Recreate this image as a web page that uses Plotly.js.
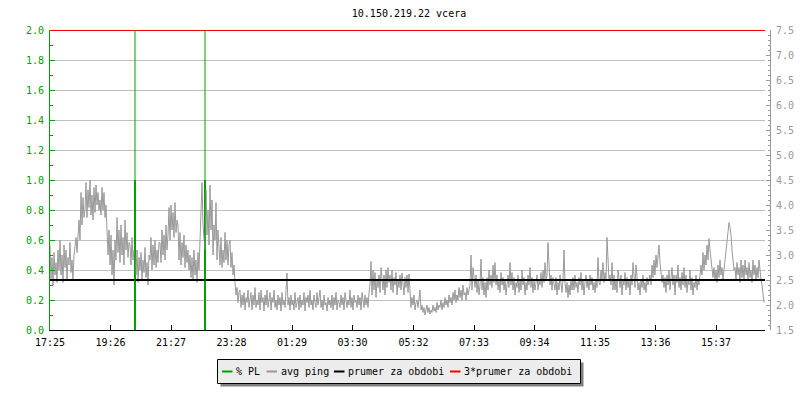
<!DOCTYPE html>
<html><head><meta charset="utf-8">
<script src="https://cdn.plot.ly/plotly-3.0.1.min.js"></script>
<style>html,body{margin:0;padding:0;background:#fff}#chart{width:800px;height:400px}</style>
</head><body><div id="chart"></div>
<script>
// ---------------- data ----------------
const chartTitle = '10.150.219.22 vcera';
const startTime = '17:25';
const windowMinutes = 1430;
const sampleStepMin = 2;
const tickLabels = ['17:25','19:26','21:27','23:28','01:29','03:30','05:32','07:33','09:34','11:35','13:36','15:37'];
const seriesNames = ['% PL','avg ping','prumer za obdobi','3*prumer za obdobi'];

// avg ping [ms], one value every sampleStepMin minutes from startTime
const pingMs = [
 3.2,2.5,2.95,2.4,3.05,2.6,2.85,2.45,3.1,2.7,
 3.3,2.6,3.0,2.45,3.2,2.75,3.1,2.5,2.95,2.8,3.25,2.65,2.9,2.5,3.0,
 3.2,3.35,3.05,
 3.4,3.7,3.3,4.25,3.6,4.15,3.75,
 3.9,4.45,3.75,4.3,3.95,4.5,3.8,4.2,3.7,4.35,3.85,4.4,4.0,4.25,3.9,
 4.1,3.8,4.35,3.9,4.25,3.75,4.0,
 3.6,3.0,3.5,2.8,3.4,2.6,3.1,2.4,
 3.3,2.9,3.75,3.05,3.5,2.85,3.6,3.0,3.35,2.8,3.7,3.1,3.45,2.95,3.25,
 3.2,2.8,3.35,2.9,3.1,
 3.0,2.6,3.1,2.45,2.95,2.7,3.05,2.5,2.9,2.65,3.15,2.55,2.85,2.4,3.0,
 2.9,3.35,2.7,3.2,2.8,3.3,2.75,3.1,2.85,3.25,
 3.25,2.85,3.5,3.0,3.4,2.9,3.6,3.1,
 3.4,3.95,3.3,4.0,3.5,3.85,3.35,4.05,3.45,3.7,
 3.6,2.9,3.45,2.8,3.25,2.95,3.4,2.75,3.2,2.85,3.1,2.7,
 3.0,2.55,2.95,2.5,3.1,2.6,2.9,2.45,3.05,2.7,
 3.4,3.9,4.45,3.6,3.2,
 3.1,4.3,3.4,3.9,3.2,4.4,3.5,4.1,3.0,3.6,
 3.3,4.05,2.9,3.5,3.2,2.8,3.35,2.75,3.1,2.85,3.45,2.9,3.3,2.8,3.2,
 3.3,2.75,3.05,2.6,2.8,
 2.45,2.2,2.35,2.05,2.25,
 2.3,1.95,2.2,2.0,2.25,1.9,2.15,2.05,2.3,1.95,
 2.1,2.25,1.9,2.2,2.0,2.35,1.95,2.1,2.0,2.25,
 1.9,2.3,2.05,2.15,1.88,2.2,2.0,2.3,1.95,2.1,
 2.25,1.9,2.15,2.05,2.3,1.95,2.1,1.9,2.2,2.0,
 2.15,1.88,2.25,2.0,2.1,1.95,2.3,2.64,2.0,2.15,
 1.9,2.2,2.0,2.1,1.9,2.25,1.95,2.05,2.15,1.9,
 2.2,1.95,2.1,2.0,2.25,1.88,2.15,2.05,2.2,1.95,
 2.3,2.0,2.1,1.9,2.2,2.05,1.95,2.25,2.0,2.15,
 2.3,1.95,2.1,1.9,2.2,2.0,2.05,1.88,2.15,2.0,
 2.1,1.95,2.2,1.9,2.15,2.0,2.25,1.9,2.1,2.05,
 1.95,2.2,2.0,2.15,1.9,2.25,2.05,1.95,2.1,2.0,
 2.3,1.95,2.15,1.9,2.2,2.05,2.1,1.95,2.2,2.0,
 2.15,1.9,2.25,2.05,1.95,2.2,2.0,2.15,1.95,2.25,
 2.4,2.87,2.2,2.7,2.3,2.65,2.15,2.5,2.35,2.6,
 2.25,2.75,2.4,2.3,2.6,2.2,2.7,2.35,2.75,2.45,
 2.6,2.3,2.7,2.25,2.55,2.4,2.65,2.2,2.5,2.35,
 2.6,2.3,2.64,2.4,2.2,2.55,2.35,2.6,2.25,2.62,
 2.1,1.95,2.15,2.0,2.2,1.9,2.05,2.1,1.95,2.15,
 2.3,1.9,2.0,1.85,1.95,1.8,1.9,2.0,1.85,1.95,
 1.82,1.9,1.85,2.0,1.88,1.95,1.85,2.05,1.9,2.0,
 1.95,2.1,1.9,2.05,1.95,2.15,2.0,2.1,1.95,2.2,
 2.05,2.15,2.0,2.25,2.1,2.3,2.05,2.2,2.1,2.35,
 2.15,2.3,2.1,2.4,2.2,2.25,2.1,2.35,2.2,2.3,
 2.4,3.0,2.3,2.75,2.5,
 2.35,2.6,2.25,2.5,2.2,2.4,2.92,2.3,2.55,2.2,
 2.45,2.15,2.55,2.3,2.7,2.4,2.6,2.35,2.8,2.45,
 2.85,2.4,2.6,2.3,2.5,2.25,2.65,2.4,2.55,2.3,
 2.5,2.2,2.45,2.6,2.35,2.85,2.4,2.65,2.3,2.55,
 2.2,2.45,2.35,2.6,2.25,2.5,2.3,2.7,2.4,2.55,
 2.2,2.45,2.3,2.6,2.4,
 2.75,2.35,2.55,2.25,2.5,2.3,2.45,2.6,2.3,2.5,
 2.4,2.65,2.35,2.7,2.45,2.85,2.5,2.6,3.25,2.7,
 2.4,2.6,2.3,2.55,2.35,
 2.3,2.55,2.2,2.45,2.3,2.6,2.4,2.25,2.5,3.1,
 2.45,2.25,2.45,2.15,2.4,2.2,2.5,2.3,2.55,2.3,
 2.6,2.35,2.45,2.25,2.55,2.4,2.65,2.3,2.5,2.2,
 2.45,2.6,2.35,2.5,2.3,2.6,2.4,2.55,2.3,2.45,
 2.25,2.5,2.35,2.95,2.45,
 2.4,2.7,2.5,2.85,2.45,2.65,2.5,3.35,2.7,2.5,
 2.6,2.4,2.85,2.3,2.6,2.3,2.5,2.25,2.7,2.45,
 2.35,2.6,2.2,2.5,2.4,2.65,2.3,2.55,2.35,2.5,
 2.2,2.6,2.4,2.85,2.5,2.35,2.8,2.55,2.3,2.45,
 2.2,2.5,2.35,2.6,2.3,2.45,2.25,2.55,2.4,2.5,
 2.6,2.4,2.8,2.55,2.9,2.6,3.0,2.75,3.1,3.2,
 2.85,2.7,2.45,2.6,2.35,2.55,2.25,2.6,2.4,2.7,
 2.3,2.55,2.75,2.4,2.6,2.2,2.6,2.45,2.8,2.35,
 2.55,2.3,2.65,2.4,2.75,2.35,2.6,2.25,2.5,2.4,
 2.7,2.3,2.55,2.2,2.45,2.35,2.6,2.3,2.5,2.4,
 2.55,2.8,2.6,3.05,2.7,3.0,2.8,3.2,2.9,3.33,3.1,2.9,
 2.85,2.55,2.75,2.5,2.7,2.45,2.8,2.55,2.9,2.6,2.75,2.5,2.7,
 2.9,3.2,3.4,3.6,3.65,3.55,3.4,3.1,2.9,2.7,
 2.75,2.5,2.85,2.6,2.75,2.45,2.9,2.55,2.8,2.5,
 2.9,2.6,2.75,2.5,2.85,2.55,2.7,2.45,2.9,2.6,
 2.8,2.5,2.75,2.55,2.9,2.6,2.5,2.4,2.25,2.05
];

// packet loss events (fraction, left axis)
const plEventTimes = ['20:15','22:35'];
const plEventValues = [1.0, 1.0];

// period averages [ms], right axis
const prumerMs = 2.5;
const prumer3Ms = 7.5;

// ---------------- styling ----------------
const FONT = 'DejaVu Sans Mono';
const GREEN = '#00a000';
const GRAY = '#999999';

function toMin(hhmm){
  const [h,m] = hhmm.split(':').map(Number);
  const [sh,sm] = startTime.split(':').map(Number);
  return ((h*60+m) - (sh*60+sm) + 1440) % 1440;
}

const pingX = pingMs.map((_, i) => i*sampleStepMin);
const tickVals = tickLabels.map(toMin);

const plX = [], plY = [];
plEventTimes.forEach((t, i) => {
  const m = toMin(t);
  plX.push(m, m, null); plY.push(0, plEventValues[i], null);
});

const traces = [
  {x: pingX, y: pingMs, yaxis: 'y2', type: 'scatter', mode: 'lines', name: seriesNames[1],
   line: {color: GRAY, width: 1}, hoverinfo: 'skip'},
  {x: [0, windowMinutes], y: [prumerMs, prumerMs], yaxis: 'y2', type: 'scatter', mode: 'lines',
   name: seriesNames[2], line: {color: '#000', width: 2}},
  {x: plX, y: plY, yaxis: 'y', type: 'scatter', mode: 'lines', name: seriesNames[0],
   line: {color: GREEN, width: 2}},
  {x: [0, windowMinutes], y: [prumer3Ms, prumer3Ms], yaxis: 'y2', type: 'scatter', mode: 'lines',
   name: seriesNames[3], line: {color: '#ff0000', width: 2}}
];

// pixel -> paper helpers (plot area: left 50, right 770, top 30, bottom 330)
const ML = 50, MR = 30, MT = 30, MB = 70, W = 800, H = 400;
const PW = W - ML - MR, PH = H - MT - MB;
const px = v => (v - ML) / PW;
const py = v => (H - MB - v) / PH;

const shapes = [];
plEventTimes.forEach(t => {
  shapes.push({type: 'line', xref: 'x', yref: 'paper', x0: toMin(t), x1: toMin(t), y0: 0, y1: 1,
    line: {color: GREEN, width: 1}});
});

// legend box
const legBox = {x0: 217.5, x1: 580.5, y0: 359.5, y1: 383.5, shadow: 3};
shapes.push({type: 'rect', xref: 'paper', yref: 'paper', x0: px(legBox.x0 + legBox.shadow), x1: px(legBox.x1 + legBox.shadow),
  y0: py(legBox.y1 + legBox.shadow), y1: py(legBox.y0 + legBox.shadow), fillcolor: '#808080', line: {width: 0}});
shapes.push({type: 'rect', xref: 'paper', yref: 'paper', x0: px(legBox.x0), x1: px(legBox.x1),
  y0: py(legBox.y1), y1: py(legBox.y0), fillcolor: '#ececec', line: {color: '#000', width: 1}});
const legColors = [GREEN, GRAY, '#000', '#ff0000'];
const legSampleX = [222, 266.5, 334, 450];
const legTextX = [236.5, 280.5, 348, 464];
const legY = 371.5;
const annotations = [];
seriesNames.forEach((n, i) => {
  shapes.push({type: 'line', xref: 'paper', yref: 'paper', x0: px(legSampleX[i]), x1: px(legSampleX[i] + 10.5),
    y0: py(legY), y1: py(legY), line: {color: legColors[i], width: 2}});
  annotations.push({xref: 'paper', yref: 'paper', x: px(legTextX[i] - 2), y: py(legY), xanchor: 'left', yanchor: 'middle',
    text: n, showarrow: false, font: {family: FONT, size: 10, color: '#000'}});
});

const layout = {
  width: W, height: H,
  margin: {l: ML, r: MR, t: MT, b: MB, pad: 0},
  paper_bgcolor: '#fff', plot_bgcolor: '#fff',
  showlegend: false,
  font: {family: FONT, size: 10, color: '#000'},
  title: {text: chartTitle, font: {family: FONT, size: 10, color: '#000'},
    xref: 'container', x: 409/800, xanchor: 'center', yref: 'container', y: 1 - 13.5/400, yanchor: 'middle'},
  xaxis: {domain: [0, (765 - ML)/PW], range: [0, windowMinutes], tickmode: 'array', tickvals: tickVals, ticktext: tickLabels,
    ticks: 'inside', ticklen: 5, tickcolor: '#000', showline: true, linecolor: '#000', linewidth: 1,
    showgrid: false, zeroline: false, tickfont: {family: FONT, size: 10, color: '#000'}, ticklabelstandoff: 3, fixedrange: true},
  yaxis: {range: [0, 2], tick0: 0, dtick: 0.2, tickformat: '.1f', ticks: 'inside', ticklen: 5, tickcolor: GREEN,
    showline: true, linecolor: GREEN, linewidth: 1, gridcolor: '#c0c0c0', gridwidth: 1, zeroline: false,
    tickfont: {family: FONT, size: 10, color: GREEN}, ticklabelstandoff: 3,
    minor: {dtick: 0.1, ticks: 'inside', ticklen: 3, tickcolor: GREEN, showgrid: false}, fixedrange: true},
  yaxis2: {overlaying: 'y', side: 'right', anchor: 'free', position: 1, range: [1.5, 7.5], tick0: 1.5, dtick: 0.5,
    tickformat: '.1f', ticks: 'inside', ticklen: 4, tickcolor: GRAY, showline: true, linecolor: GRAY, linewidth: 1,
    showgrid: false, zeroline: false, tickfont: {family: FONT, size: 10, color: GRAY}, ticklabelstandoff: 3,
    minor: {dtick: 0.1, ticks: 'inside', ticklen: 2, tickcolor: GRAY, showgrid: false}, fixedrange: true},
  shapes: shapes,
  annotations: annotations
};

Plotly.newPlot('chart', traces, layout, {staticPlot: true, displayModeBar: false});
</script>
</body></html>
